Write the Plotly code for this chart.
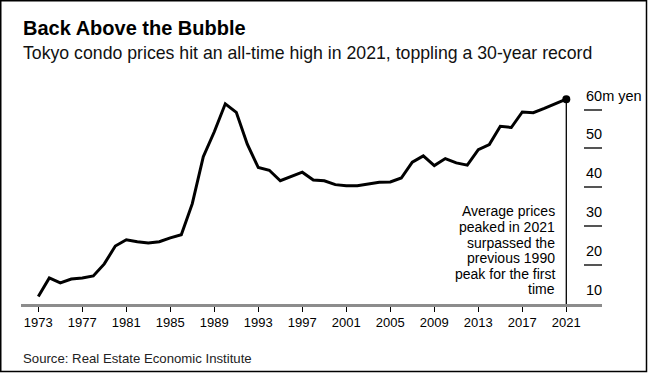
import plotly.graph_objects as go

# ---- data ----
years = list(range(1973, 2022))
prices = [11.9, 16.7, 15.4, 16.4, 16.7, 17.2, 20.3, 24.9, 26.5, 26.0,
          25.7, 26.0, 27.0, 27.8, 35.8, 47.9, 54.3, 61.5, 59.3, 51.1,
          45.1, 44.4, 41.7, 42.8, 43.9, 41.9, 41.7, 40.7, 40.4, 40.4,
          40.8, 41.3, 41.4, 42.4, 46.5, 48.1, 45.6, 47.4, 46.3, 45.7,
          49.7, 51.0, 55.7, 55.4, 59.4, 59.2, 60.3, 61.4, 62.7]
x_ticks = [1973, 1977, 1981, 1985, 1989, 1993, 1997, 2001, 2005, 2009, 2013, 2017, 2021]
y_ticks = [10, 20, 30, 40, 50, 60]
y_tick_labels = ["10", "20", "30", "40", "50", "60m yen"]
note_lines = ["Average prices", "peaked in 2021", "surpassed the",
              "previous 1990", "peak for the first", "time"]
title = "Back Above the Bubble"
subtitle = "Tokyo condo prices hit an all-time high in 2021, toppling a 30-year record"
source = "Source: Real Estate Economic Institute"

FONT = "Liberation Sans, Arial, Helvetica, sans-serif"
W, H = 649, 373
L, R, T, B = 21, 602, 88, 304
PW, PH = R - L, B - T


def px(xp):
    return (xp - L) / PW


def py(yp):
    return (B - yp) / PH


fig = go.Figure()
fig.add_trace(go.Scatter(x=years, y=prices, mode="lines",
                         line=dict(color="black", width=3),
                         hoverinfo="skip", cliponaxis=False))
fig.add_trace(go.Scatter(x=[years[-1]], y=[prices[-1]], mode="markers",
                         marker=dict(color="black", size=8),
                         hoverinfo="skip", cliponaxis=False))

annotations = []
annotations.append(dict(text="<b>" + title + "</b>", x=px(21), y=py(28.5),
                        xref="paper", yref="paper", xanchor="left", yanchor="middle",
                        showarrow=False, font=dict(family=FONT, size=20, color="black")))
annotations.append(dict(text=subtitle, x=px(21), y=py(53.5),
                        xref="paper", yref="paper", xanchor="left", yanchor="middle",
                        showarrow=False, font=dict(family=FONT, size=17.7, color="#111")))
annotations.append(dict(text=source, x=px(21), y=py(358.3),
                        xref="paper", yref="paper", xanchor="left", yanchor="middle",
                        showarrow=False, font=dict(family=FONT, size=13.2, color="#222")))
for v, lab in zip(y_ticks, y_tick_labels):
    annotations.append(dict(text=lab, x=px(584), y=v, xref="paper", yref="y",
                            xanchor="left", yanchor="middle", yshift=14,
                            showarrow=False, font=dict(family=FONT, size=14.5, color="black")))
note_y = [211, 226.7, 242.7, 258.3, 274, 289.3]
for yy, line in zip(note_y, note_lines):
    annotations.append(dict(text=line, x=px(556.7), y=py(yy), xref="paper", yref="paper",
                            xanchor="right", yanchor="middle", showarrow=False,
                            font=dict(family=FONT, size=14, color="black")))

shapes = [
    dict(type="line", xref="x", yref="y", x0=years[-1], x1=years[-1],
         y0=9.0, y1=prices[-1], line=dict(color="black", width=1.3)),
    dict(type="rect", xref="paper", yref="paper",
         x0=px(0.75), x1=px(646.5), y0=py(371.5), y1=py(0.75),
         line=dict(color="black", width=1.5)),
]

ppu = 3.886
ymin = 9.98
ymax = ymin + (B - T) / ppu
xmin = 1973 - (38.3 - L) / 11.0
xmax = 2021 + (R - 566.3) / 11.0

fig.update_layout(
    width=W, height=H,
    margin=dict(l=L, r=W - R, t=T, b=H - B, pad=0),
    paper_bgcolor="white", plot_bgcolor="white",
    showlegend=False,
    annotations=annotations, shapes=shapes,
    xaxis=dict(range=[xmin, xmax], tickvals=x_ticks, ticktext=[str(v) for v in x_ticks],
               showgrid=False, zeroline=False, showline=True, linecolor="#8c8c8c",
               linewidth=2.5, ticks="outside", ticklen=5, tickwidth=1, tickcolor="black",
               tickfont=dict(family=FONT, size=13, color="black"), fixedrange=True),
    yaxis=dict(range=[ymin, ymax], tickvals=y_ticks, side="right", ticks="inside",
               ticklen=18, tickwidth=1.5, tickcolor="#555", showticklabels=False,
               showgrid=False, zeroline=False, showline=False, fixedrange=True),
)

fig.write_html("out.html", config={"displayModeBar": False},
               post_script="document.body.style.margin='0px';document.body.style.overflow='hidden';")
